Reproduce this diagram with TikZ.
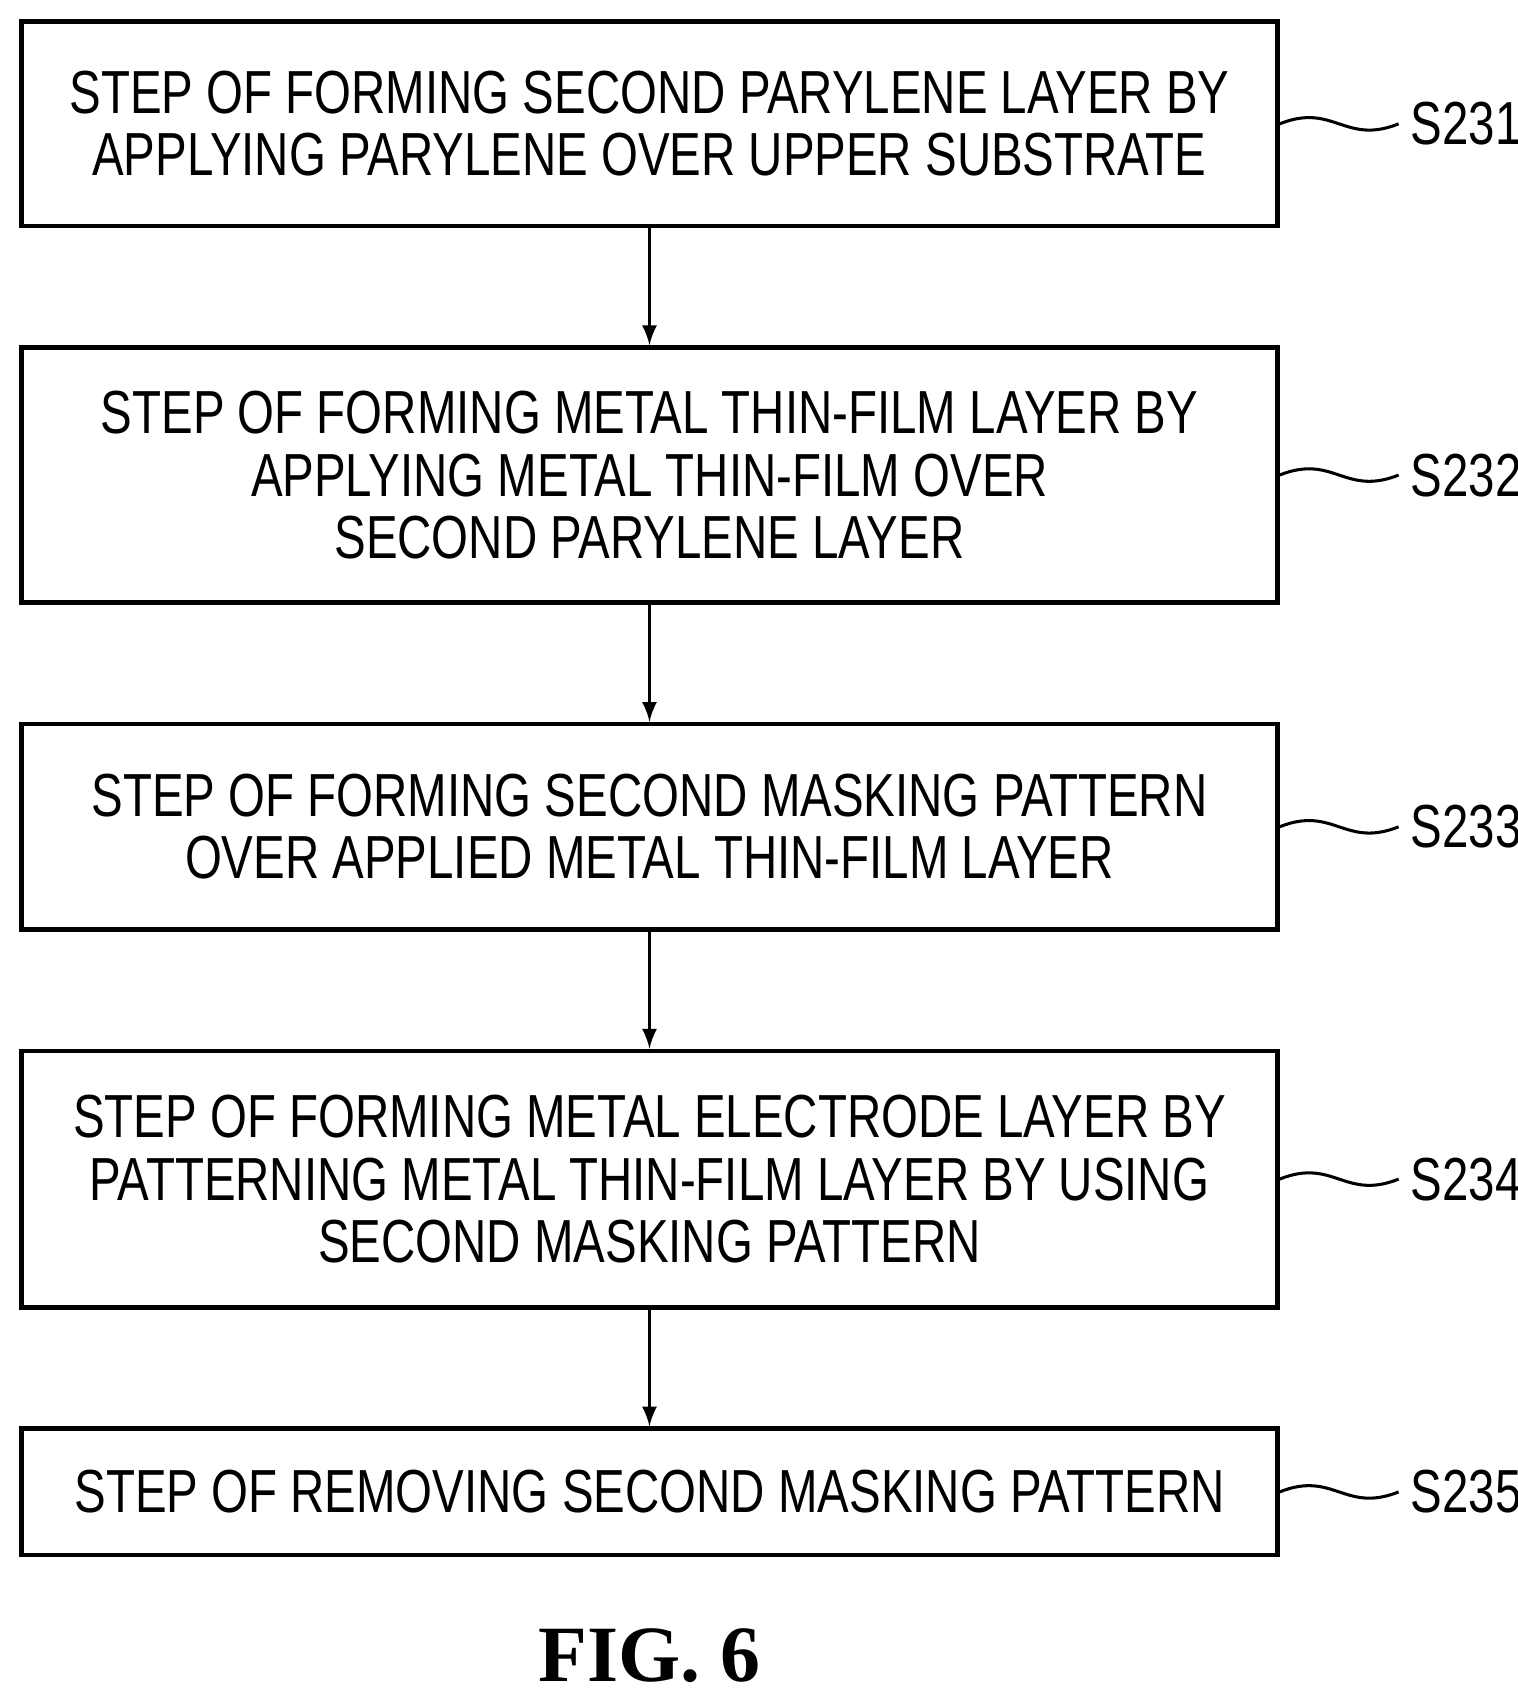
\documentclass[tikz,border=0pt]{standalone}
\usepackage{fontspec}
\setmainfont{Liberation Sans}[FakeStretch=0.78]
\newfontfamily\figfont{Liberation Serif}
\usetikzlibrary{positioning,arrows}
\tikzset{
	every node/.style = {font=\fontsize{16}{16.4}\selectfont, inner sep = 3},
	stepbox/.style = {draw, line width=1.2pt, minimum width=11.61cm, align=center},
	tag/.style = {anchor=west, font=\fontsize{16}{16.4}\selectfont},
	>=latex
}

\begin{document}
\begin{tikzpicture}[]
		\useasboundingbox (0,0) rectangle (14.03,-15.69);
		\node[stepbox, minimum height=1.89cm] (s231) at (6.005,-1.145) {STEP OF FORMING SECOND PARYLENE LAYER BY\\APPLYING PARYLENE OVER UPPER SUBSTRATE};
		\node[stepbox, minimum height=2.36cm, below = 1.08 of s231] (s232) {STEP OF FORMING METAL THIN-FILM LAYER BY\\APPLYING METAL THIN-FILM OVER\\SECOND PARYLENE LAYER};
		\node[stepbox, minimum height=1.90cm, below = 1.08 of s232] (s233) {STEP OF FORMING SECOND MASKING PATTERN\\OVER APPLIED METAL THIN-FILM LAYER};
		\node[stepbox, minimum height=2.37cm, below = 1.08 of s233] (s234) {STEP OF FORMING METAL ELECTRODE LAYER BY\\PATTERNING METAL THIN-FILM LAYER BY USING\\SECOND MASKING PATTERN};
		\node[stepbox, minimum height=1.17cm, below = 1.08 of s234] (s235) {STEP OF REMOVING SECOND MASKING PATTERN};
		
		\foreach \s in {231,232,233,234,235}{
			\node[tag, right = 1.1 of s\s.east] (l\s) {S\s};
			\draw[line width=0.8pt] (s\s.east) .. controls +(0.5,0.2) and +(-0.5,-0.2) .. (l\s.west);
		}
		
		\foreach \a/\b in {231/232,232/233,233/234,234/235}
			\draw[->, line width=0.8pt] (s\a) -- (s\b);
		
		\node[font=\figfont\bfseries\fontsize{21}{24}\selectfont, below = 0.55 of s235] (fig) {FIG. 6};
\end{tikzpicture}
\end{document}
